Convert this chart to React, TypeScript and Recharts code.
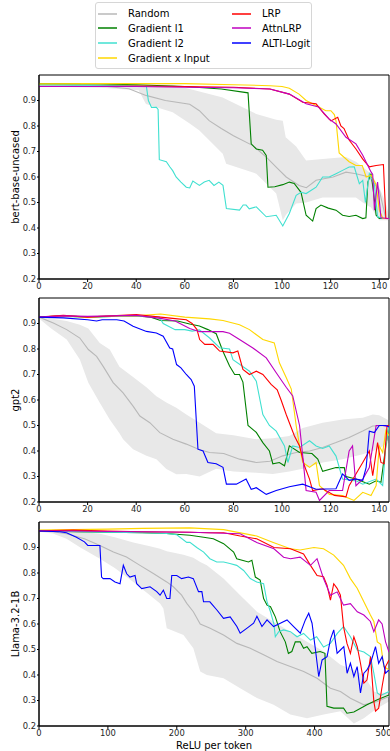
import { ComposedChart, Line, Area, XAxis, YAxis, ReferenceArea } from 'recharts'

type P = [number, number]
type B = [number, number, number]

// ---- bert-base-uncased ----
const bertTicks = [0, 20, 40, 60, 80, 100, 120, 140]
const bertBand: B[] = [[0,0.955,0.965],[25,0.95,0.965],[41,0.94,0.965],[44,0.886,0.964],[55,0.854,0.962],[62,0.81,0.945],[66,0.782,0.935],[75.6,0.691,0.912],[77,0.652,0.905],[89.4,0.613,0.847],[97.6,0.535,0.825],[100.3,0.43,0.821],[101.5,0.45,0.756],[105.8,0.496,0.72],[109.9,0.5,0.665],[116.7,0.52,0.671],[126.3,0.52,0.678],[130.4,0.52,0.66],[133.2,0.5,0.639],[136.6,0.48,0.613],[140,0.43,0.56],[142.7,0.43,0.496],[144,0.43,0.45]]
const bertRandom: P[] = [[0,0.96],[10,0.96],[20,0.958],[28,0.955],[37,0.946],[44,0.92],[52,0.9],[62,0.885],[66,0.86],[70,0.821],[75,0.79],[80,0.762],[88,0.723],[93.5,0.678],[98,0.635],[101.7,0.6],[107,0.567],[110,0.558],[114,0.587],[121,0.6],[126.3,0.619],[130.4,0.613],[135.9,0.6],[140,0.548],[142.7,0.437],[144,0.435]]
const bertGrad1: P[] = [[0,0.965],[20,0.966],[40,0.962],[60,0.955],[75,0.945],[86,0.93],[87.3,0.73],[89.4,0.71],[92,0.705],[93.5,0.685],[94.2,0.56],[97,0.562],[100.3,0.57],[103,0.58],[105,0.575],[107.8,0.54],[109.9,0.45],[112.6,0.427],[114,0.476],[116,0.49],[119,0.478],[122.2,0.47],[124.9,0.45],[127.6,0.445],[130.4,0.45],[133.2,0.437],[134.5,0.44],[135.3,0.58],[136.6,0.613],[137.5,0.55],[138.7,0.45],[140,0.437],[144,0.437]]
const bertGrad2: P[] = [[0,0.962],[20,0.96],[40,0.958],[44.2,0.955],[45,0.9],[46.3,0.873],[48.3,0.873],[49,0.865],[49.5,0.668],[52.4,0.66],[53.8,0.64],[55,0.625],[56.4,0.6],[58.4,0.58],[60.6,0.56],[62,0.557],[63.3,0.584],[66,0.567],[68,0.58],[70,0.587],[72,0.567],[74,0.58],[75.7,0.567],[77.1,0.476],[82.5,0.47],[84,0.49],[85.2,0.49],[86.5,0.475],[89.4,0.483],[93.5,0.444],[97.6,0.45],[100.3,0.408],[103,0.457],[105.8,0.528],[107.8,0.54],[109.9,0.535],[114,0.56],[116.7,0.6],[119.4,0.6],[122.2,0.613],[124.9,0.626],[127.6,0.639],[129.7,0.64],[131.8,0.574],[133.2,0.587],[134.3,0.5],[135.9,0.613],[138,0.57],[139.3,0.444],[141.4,0.437],[144,0.437]]
const bertGxI: P[] = [[0,0.965],[20,0.966],[40,0.966],[60,0.966],[80,0.962],[95,0.958],[100,0.955],[103,0.948],[107,0.925],[109.9,0.9],[114,0.88],[118,0.86],[120.1,0.86],[121.5,0.845],[122.2,0.82],[123.5,0.694],[127.6,0.66],[130.4,0.645],[133,0.645],[134.6,0.6],[136.6,0.607],[138.7,0.57],[140,0.47],[141.5,0.437],[144,0.437]]
const bertLRP: P[] = [[0,0.955],[20,0.955],[40,0.957],[60,0.955],[80,0.952],[95,0.945],[103,0.925],[108.5,0.893],[114,0.887],[117.4,0.847],[120.1,0.82],[122.9,0.834],[124.2,0.8],[125.5,0.79],[127.6,0.745],[130.4,0.71],[133.2,0.67],[135.9,0.64],[138.7,0.645],[141.7,0.649],[142.7,0.437],[144,0.437]]
const bertAttn: P[] = [[0,0.955],[20,0.955],[40,0.955],[60,0.952],[80,0.95],[95,0.945],[103,0.925],[109.9,0.887],[115,0.875],[119.4,0.827],[122.2,0.808],[126.3,0.756],[130.4,0.73],[133.2,0.685],[136.6,0.62],[137.3,0.61],[138,0.47],[139.3,0.58],[140.7,0.44],[144,0.437]]

// ---- gpt2 ----
const gptTicks = [0, 20, 40, 60, 80, 100, 120, 140]
const gptBand: B[] = [[0,0.92,0.93],[5,0.88,0.92],[11.4,0.837,0.91],[16.8,0.759,0.895],[20.3,0.668,0.88],[25,0.589,0.824],[29.1,0.524,0.798],[33.1,0.47,0.73],[34.6,0.446,0.72],[38.7,0.407,0.69],[44.2,0.381,0.65],[48.3,0.368,0.615],[52.4,0.329,0.59],[56.5,0.309,0.57],[60.6,0.31,0.543],[66.1,0.3,0.511],[72.9,0.33,0.47],[80,0.32,0.462],[89.4,0.315,0.446],[96.2,0.31,0.45],[103,0.32,0.459],[108.5,0.33,0.49],[116.7,0.355,0.511],[124.9,0.368,0.524],[133.2,0.387,0.53],[137.3,0.4,0.543],[140,0.41,0.54],[144,0.433,0.52]]
const gptRandom: P[] = [[0,0.925],[5.9,0.902],[11.4,0.876],[16.8,0.843],[20.3,0.798],[23.7,0.771],[26.4,0.732],[30.5,0.668],[34.6,0.628],[38.7,0.576],[41.5,0.537],[45.6,0.511],[49.7,0.472],[55.1,0.446],[60.6,0.427],[66.1,0.405],[70.2,0.394],[76,0.39],[82.5,0.368],[89.4,0.355],[95,0.36],[100.3,0.381],[105.8,0.394],[111.3,0.4],[116.7,0.414],[122.2,0.433],[127.6,0.453],[133.2,0.478],[137.3,0.498],[144,0.5]]
const gptGrad1: P[] = [[0,0.925],[10,0.93],[20,0.925],[30,0.928],[40,0.93],[46,0.925],[50,0.912],[57,0.91],[62,0.898],[66,0.89],[69.5,0.876],[72.9,0.86],[75.7,0.79],[78.4,0.733],[80.5,0.7],[82.5,0.7],[83.9,0.67],[86,0.5],[89.4,0.473],[92.1,0.433],[94.8,0.4],[96.2,0.35],[98.9,0.355],[101,0.342],[103,0.42],[107.2,0.394],[112.3,0.39],[114.7,0.368],[116.7,0.32],[122.2,0.335],[125.6,0.335],[126.3,0.3],[130.4,0.29],[135.9,0.27],[138.7,0.283],[140.7,0.277],[142.7,0.42],[144,0.5]]
const gptGrad2: P[] = [[0,0.925],[10,0.928],[20,0.925],[30,0.928],[40,0.93],[49.5,0.925],[51.1,0.9],[56,0.876],[60,0.876],[63,0.87],[66,0.875],[70.2,0.843],[74.3,0.805],[78.4,0.8],[79.8,0.758],[86.6,0.713],[89.4,0.674],[92.1,0.543],[94.8,0.5],[97.6,0.478],[101,0.42],[102.4,0.355],[104.4,0.42],[107.2,0.414],[111.3,0.44],[114,0.42],[116.7,0.41],[119.4,0.42],[122.2,0.38],[124.9,0.29],[130.4,0.283],[133.2,0.27],[138.7,0.29],[141.4,0.265],[142.7,0.42],[144,0.5]]
const gptGxI: P[] = [[0,0.925],[10,0.93],[20,0.925],[30,0.93],[40,0.93],[50,0.937],[60,0.925],[70.2,0.918],[75.7,0.912],[82.5,0.895],[86.6,0.876],[92.1,0.837],[96.8,0.824],[98.9,0.746],[101.7,0.688],[103.8,0.643],[105.8,0.5],[107.2,0.42],[108.5,0.355],[111.3,0.336],[114,0.355],[115.4,0.264],[119.5,0.23],[124.9,0.225],[129.6,0.206],[133.2,0.238],[136.6,0.225],[138.7,0.264],[140,0.42],[141.4,0.394],[142.7,0.48],[144,0.46]]
const gptLRP: P[] = [[0,0.925],[10,0.932],[20,0.925],[30,0.93],[40,0.935],[50,0.925],[55,0.92],[60.6,0.915],[63,0.9],[65,0.876],[66.1,0.837],[68.2,0.818],[71.6,0.818],[74.3,0.792],[79.8,0.785],[81.8,0.792],[83.9,0.72],[86.6,0.7],[89.4,0.713],[92.1,0.7],[95.5,0.661],[98,0.64],[99.6,0.6],[101.7,0.543],[103,0.511],[105.1,0.459],[107.2,0.42],[109.2,0.342],[111.3,0.29],[112.6,0.245],[116.7,0.252],[121.6,0.226],[126.3,0.22],[127.6,0.264],[130.4,0.31],[133.2,0.355],[135.9,0.4],[137.3,0.303],[139.3,0.433],[140.7,0.355],[142,0.35],[143.2,0.5],[144,0.5]]
const gptAttn: P[] = [[0,0.925],[10,0.93],[20,0.928],[30,0.93],[40,0.932],[50,0.92],[56,0.91],[62,0.88],[66.1,0.868],[75.7,0.868],[78.4,0.862],[82.5,0.837],[88,0.804],[93.5,0.765],[97.6,0.707],[101.7,0.65],[104.4,0.616],[107.2,0.5],[108.5,0.381],[109.9,0.245],[114,0.238],[115.4,0.206],[119.4,0.245],[124.9,0.245],[127.6,0.4],[129,0.42],[130.4,0.264],[133.2,0.29],[135.9,0.335],[138.7,0.5],[141.4,0.5],[144,0.495]]
const gptAlti: P[] = [[0,0.925],[10,0.922],[20,0.915],[23.7,0.91],[26,0.915],[32,0.915],[35,0.91],[38.7,0.889],[44.2,0.869],[48.3,0.863],[51.1,0.85],[53.8,0.804],[55,0.8],[56.6,0.739],[58.4,0.726],[60.6,0.7],[62.6,0.68],[63.9,0.654],[65.4,0.407],[67.5,0.4],[69.5,0.355],[72.9,0.35],[75.7,0.336],[77.1,0.27],[81.2,0.27],[85.2,0.29],[87.3,0.25],[89.4,0.256],[93.5,0.23],[97.6,0.245],[103,0.26],[108.5,0.27],[114,0.25],[122.2,0.252],[124.9,0.31],[127.6,0.285],[130.4,0.29],[133.2,0.285],[134.6,0.336],[135.9,0.478],[138,0.472],[140,0.5],[142.7,0.5],[144,0.495]]

// ---- Llama-3.2-1B ----
const llamaTicks = [0, 100, 200, 300, 400, 500]
const llamaBand: B[] = [[0,0.962,0.97],[20,0.955,0.97],[39.9,0.934,0.968],[60,0.9,0.962],[88.4,0.856,0.954],[110,0.82,0.94],[136.9,0.765,0.92],[161,0.713,0.905],[175.7,0.68,0.895],[180.5,0.661,0.89],[185.4,0.583,0.885],[209.7,0.557,0.872],[224,0.505,0.86],[234,0.414,0.843],[243.6,0.4,0.83],[267.8,0.387,0.778],[292,0.348,0.713],[316.3,0.31,0.648],[340.5,0.283,0.609],[364.8,0.245,0.57],[389,0.23,0.53],[413.3,0.245,0.492],[437.5,0.258,0.44],[457,0.21,0.42],[471.5,0.23,0.4],[486,0.26,0.335],[491,0.27,0.33],[508,0.296,0.33]]
const llamaRandom: P[] = [[0,0.965],[20,0.962],[39.9,0.954],[66,0.934],[88.4,0.908],[108,0.882],[127,0.863],[146.6,0.83],[166,0.798],[185.4,0.765],[195,0.746],[207,0.713],[214.5,0.681],[224,0.648],[234,0.6],[248.4,0.583],[267.8,0.557],[287.2,0.524],[306.6,0.505],[326,0.479],[345.4,0.453],[364.8,0.433],[384.2,0.414],[403.6,0.387],[423,0.348],[437.5,0.335],[452,0.309],[471.5,0.283],[491,0.296],[508,0.316]]
const llamaGrad1: P[] = [[0,0.965],[50,0.962],[100,0.96],[150,0.958],[185,0.955],[219,0.948],[239,0.94],[253,0.934],[268,0.915],[282.5,0.882],[287,0.856],[304,0.843],[309,0.85],[314,0.784],[321,0.772],[326,0.7],[331,0.674],[336,0.668],[343,0.628],[350,0.57],[357.5,0.53],[362,0.485],[367,0.492],[372,0.53],[379,0.53],[384,0.505],[389,0.511],[396,0.485],[408,0.492],[415,0.485],[418,0.277],[427.8,0.27],[442,0.27],[447,0.25],[457,0.255],[476,0.283],[491,0.303],[508,0.322]]
const llamaGrad2: P[] = [[0,0.965],[50,0.963],[100,0.96],[150,0.958],[185,0.955],[200,0.95],[214.5,0.92],[219,0.92],[229,0.9],[239,0.882],[248,0.856],[258,0.843],[268,0.843],[277,0.837],[287,0.83],[297,0.81],[306.6,0.778],[316,0.765],[326,0.758],[331,0.687],[336,0.648],[341,0.6],[343,0.55],[348,0.57],[355,0.577],[365,0.57],[374.5,0.55],[384,0.563],[394,0.537],[403,0.55],[413,0.51],[423,0.524],[433,0.563],[442,0.59],[452,0.55],[462,0.498],[471.5,0.49],[481,0.472],[486,0.407],[491,0.33],[496,0.32],[508,0.335]]
const llamaGxI: P[] = [[0,0.968],[50,0.97],[100,0.972],[150,0.975],[219,0.977],[268,0.97],[316,0.945],[340,0.92],[365,0.895],[379,0.89],[399,0.9],[413,0.895],[427.8,0.87],[442,0.83],[452,0.778],[461.8,0.74],[471.5,0.687],[481,0.635],[486,0.61],[491,0.53],[496,0.52],[500.5,0.433],[508,0.42]]
const llamaLRP: P[] = [[0,0.965],[50,0.968],[100,0.965],[150,0.962],[219,0.96],[248,0.958],[268,0.958],[292,0.945],[316,0.934],[341,0.9],[365,0.895],[384,0.875],[394,0.83],[403.6,0.79],[413,0.785],[418,0.752],[423,0.694],[427.8,0.758],[432.7,0.74],[437.5,0.713],[442,0.59],[447,0.524],[452,0.485],[457,0.55],[462,0.51],[466.6,0.446],[471.5,0.368],[476,0.38],[481.2,0.472],[486,0.296],[488.4,0.258],[493,0.27],[498,0.355],[503,0.433],[508,0.459]]
const llamaAttn: P[] = [[0,0.965],[50,0.965],[100,0.963],[150,0.962],[219,0.96],[292,0.954],[316,0.92],[341,0.895],[355,0.862],[365,0.856],[379,0.862],[394,0.83],[403.6,0.856],[413,0.778],[423,0.713],[432.7,0.726],[442,0.674],[452,0.68],[462,0.648],[471.5,0.635],[481,0.61],[486,0.57],[493,0.616],[498,0.6],[503,0.53],[508,0.49]]
const llamaAlti: P[] = [[0,0.965],[30,0.962],[40,0.958],[54.3,0.94],[66,0.922],[70.8,0.908],[88.4,0.908],[90.8,0.784],[93.2,0.778],[103,0.778],[110.3,0.765],[117.6,0.758],[122.4,0.83],[127.3,0.797],[132,0.784],[139.4,0.79],[141.8,0.758],[149.1,0.739],[161.2,0.746],[170.9,0.727],[175.7,0.713],[180.5,0.733],[185.4,0.7],[190,0.7],[192.7,0.79],[200,0.79],[207,0.778],[216.9,0.784],[224,0.778],[231.5,0.727],[236.4,0.727],[238.8,0.687],[248,0.687],[258.2,0.655],[267.8,0.622],[277.5,0.628],[287.2,0.59],[292,0.564],[302,0.584],[311.5,0.603],[316.3,0.63],[323.6,0.59],[331,0.616],[340.5,0.59],[350.2,0.603],[360,0.616],[369.6,0.59],[379.3,0.564],[386.6,0.616],[391.5,0.642],[396.3,0.603],[401.2,0.5],[406,0.394],[410.9,0.459],[418.1,0.472],[423,0.54],[427.8,0.577],[432.7,0.485],[437.5,0.498],[442.4,0.511],[447.2,0.407],[452,0.446],[457,0.394],[461.8,0.433],[466.6,0.33],[471.5,0.407],[476,0.42],[481.2,0.446],[488.4,0.511],[493,0.446],[498.1,0.472],[503,0.407],[508,0.42]]

const yTicks = [0.2, 0.3, 0.4, 0.5, 0.6, 0.7, 0.8, 0.9]

const methods = [
  { name: 'Random', color: '#b8b8b8' },
  { name: 'Gradient l1', color: '#008000' },
  { name: 'Gradient l2', color: '#40e0d0' },
  { name: 'Gradient x Input', color: '#ffd700' },
  { name: 'LRP', color: '#ff0000' },
  { name: 'AttnLRP', color: '#bf00bf' },
  { name: 'ALTI-Logit', color: '#0000ff' },
]

const FONT = '"DejaVu Sans", sans-serif'
const tickStyle = { fontSize: 8.4, fill: '#262626', fontFamily: FONT }

const pts = (arr: P[]) => arr.map(([x, y]) => ({ x, y }))

const YLabel = (props: any) => {
  const { viewBox, value } = props
  const cx = 15
  const cy = viewBox.y + viewBox.height / 2
  return (
    <text x={cx} y={cy} transform={`rotate(-90 ${cx} ${cy})`} textAnchor="middle"
      dominantBaseline="central" fontSize={10} fontFamily={FONT} fill="#000">{value}</text>
  )
}

interface PanelProps {
  top: number
  height: number
  xMax: number
  xTicks: number[]
  band: B[]
  lines: (P[] | null)[]
  label: string
  xLabel?: string
}

function Panel({ top, height, xMax, xTicks, band, lines, label, xLabel }: PanelProps) {
  const bandData = band.map(([x, lo, hi]) => ({ x, range: [lo, hi] }))
  return (
    <div style={{ position: 'absolute', left: 0, top }}>
      <ComposedChart width={390} height={height} data={bandData}
        margin={{ top: 5, right: 1, left: 0, bottom: 0 }}>
        <XAxis dataKey="x" type="number" domain={[0, xMax]} ticks={xTicks}
          allowDataOverflow tick={tickStyle} tickSize={3} tickMargin={1}
          height={xLabel ? 25 : 16} stroke="#000"
          label={xLabel ? { value: xLabel, position: 'insideBottom', offset: 2, fontSize: 10, fontFamily: FONT, fill: '#000' } : undefined} />
        <YAxis type="number" domain={[0.2, 1.0]} ticks={yTicks} allowDataOverflow
          tickFormatter={(v: number) => v.toFixed(1)} tick={tickStyle} tickSize={2}
          tickMargin={1} width={39} stroke="#000" label={<YLabel value={label} />} />
        <Area dataKey="range" type="linear" stroke="none" fill="#e8e8e8" fillOpacity={1}
          isAnimationActive={false} />
        {lines.map((l, i) =>
          l ? (
            <Line key={methods[i].name} data={pts(l)} dataKey="y" type="linear"
              stroke={methods[i].color} strokeWidth={1.1} dot={false}
              isAnimationActive={false} />
          ) : null
        )}
        <ReferenceArea x1={0} x2={xMax} y1={0.2} y2={1.0} fill="none" stroke="#000"
          strokeWidth={1} ifOverflow="visible" />
      </ComposedChart>
    </div>
  )
}

function LegendBox() {
  const rows = [12.7, 27, 42, 57]
  return (
    <div style={{
      position: 'absolute', left: 95, top: 2, width: 215, height: 65,
      border: '1px solid #d6d6d6', borderRadius: 3, background: '#fff',
      fontFamily: FONT, fontSize: 10, color: '#000',
    }}>
      {methods.map((m, i) => {
        const col = i < 4 ? 0 : 1
        const row = i < 4 ? i : i - 4
        return (
          <div key={m.name} style={{
            position: 'absolute', left: col === 0 ? 2 : 136, top: rows[row] - 2 - 7,
            height: 14, display: 'flex', alignItems: 'center', whiteSpace: 'nowrap',
          }}>
            <svg width={19} height={4} style={{ marginRight: 11, display: 'block' }}>
              <line x1={0} y1={2} x2={19} y2={2} stroke={m.color} strokeWidth={1.5} />
            </svg>
            <span>{m.name}</span>
          </div>
        )
      })}
    </div>
  )
}

export default function App() {
  return (
    <div style={{ position: 'absolute', left: 0, top: 0, width: 390, height: 751, background: '#fff', overflow: 'hidden' }}>
      <LegendBox />
      <Panel top={70} height={225} xMax={144} xTicks={bertTicks} band={bertBand}
        lines={[bertRandom, bertGrad1, bertGrad2, bertGxI, bertLRP, bertAttn, null]}
        label="bert-base-uncased" />
      <Panel top={293} height={225} xMax={144} xTicks={gptTicks} band={gptBand}
        lines={[gptRandom, gptGrad1, gptGrad2, gptGxI, gptLRP, gptAttn, gptAlti]}
        label="gpt2" />
      <Panel top={517} height={234} xMax={508} xTicks={llamaTicks} band={llamaBand}
        lines={[llamaRandom, llamaGrad1, llamaGrad2, llamaGxI, llamaLRP, llamaAttn, llamaAlti]}
        label="Llama-3.2-1B" xLabel="ReLU per token" />
    </div>
  )
}
